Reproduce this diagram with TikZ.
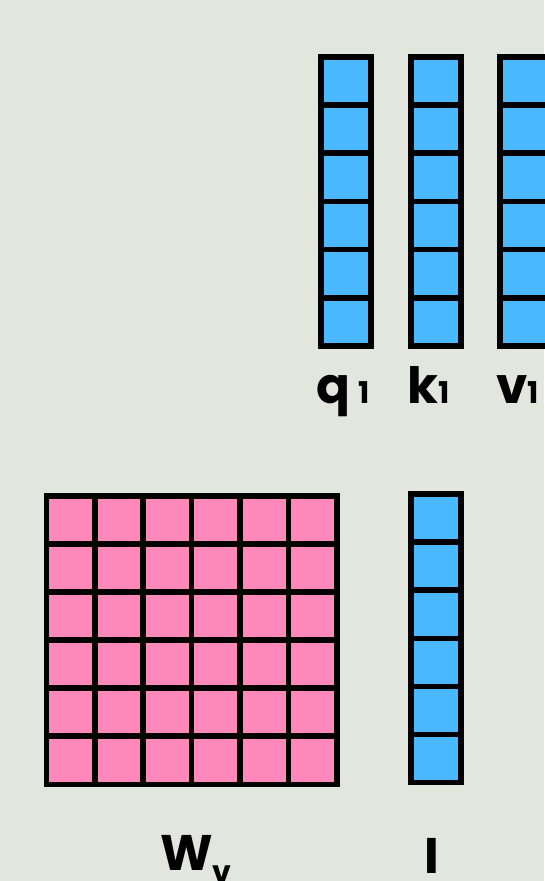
\documentclass[tikz,border=0pt]{standalone}
\usepackage{fontspec}
\setmainfont{Poppins}
\definecolor{bgcol}{RGB}{226,230,223}
\definecolor{vecblue}{RGB}{74,184,255}
\definecolor{matpink}{RGB}{255,136,187}
\tikzset{
	cellbox/.style={draw=black,line width=5.6pt,line join=miter},
	lbl/.style={anchor=base west,inner sep=0pt,font=\fontsize{50}{50}\selectfont\bfseries},
}
\newcommand{\subtxt}[1]{{\fontsize{30}{30}\selectfont #1}}

\begin{document}
\begin{tikzpicture}[x=1pt,y=-1pt]
	\fill[bgcol] (0,0) rectangle (544,881);
	\useasboundingbox (0,0) rectangle (544,881);
	% q, k, v vectors
	\foreach \cx in {320.7,410.7,499.7}
		\foreach \r in {0,...,5}
			\filldraw[cellbox,fill=vecblue] (\cx,56.7+48.2*\r) rectangle ++(50.3,48.2);
	% W_v matrix
	\foreach \c in {0,...,5}
		\foreach \r in {0,...,5}
			\filldraw[cellbox,fill=matpink] (46.4+48.4*\c,495.7+48.1*\r) rectangle ++(48.4,48.1);
	% I vector
	\foreach \r in {0,...,5}
		\filldraw[cellbox,fill=vecblue] (410.7,494+48.1*\r) rectangle ++(50.3,48.1);
	% labels
	\node[lbl] (q1) at (316,403) {q\,\subtxt{1}};
	\node[lbl] (k1) at (407,403) {k\subtxt{1}};
	\node[lbl] (v1) at (496,403) {v\subtxt{1}};
	\node[lbl] (wv) at (160,870) {W\raisebox{-12pt}{\subtxt{v}}};
	\node[lbl] (ilbl) at (424,873) {I};
\end{tikzpicture}
\end{document}
